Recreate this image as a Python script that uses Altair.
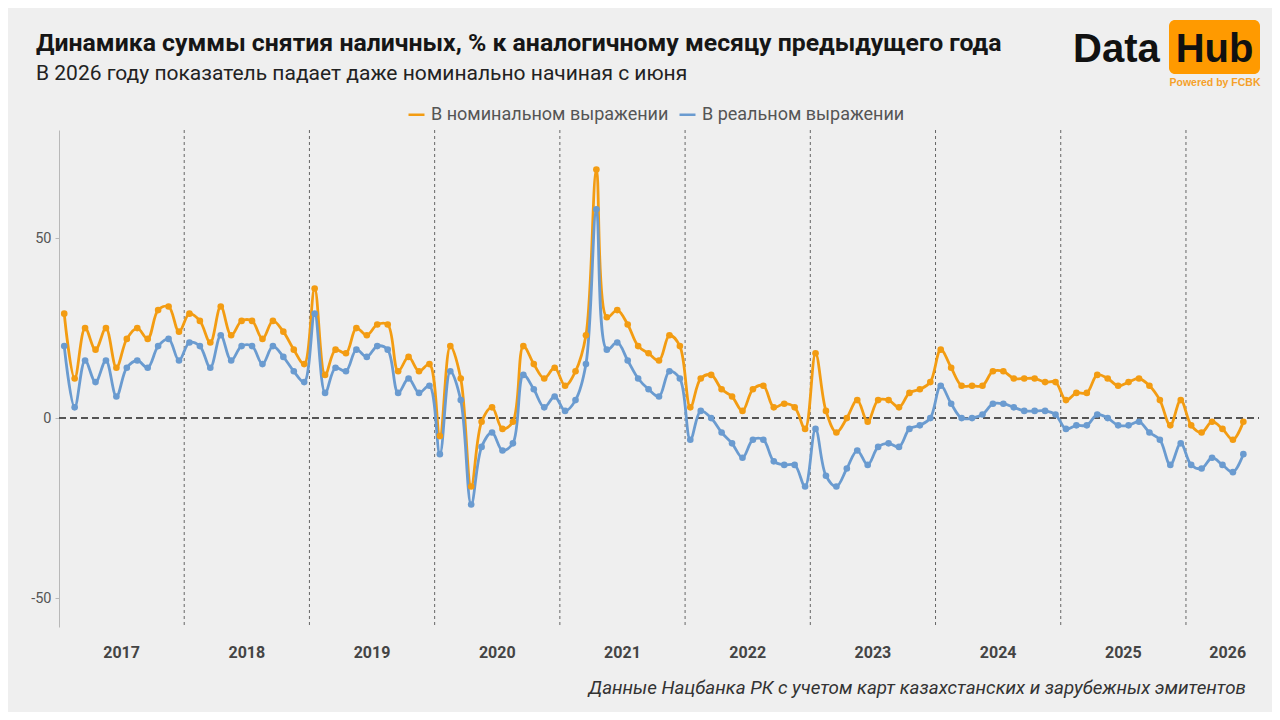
import altair as alt
import pandas as pd

# ---------------- data ----------------
years = [2017, 2018, 2019, 2020, 2021, 2022, 2023, 2024, 2025, 2026]

nominal = [
    29, 11, 25, 19, 25, 14, 22, 25, 22, 30, 31, 24,   # 2017
    29, 27, 21, 31, 23, 27, 27, 22, 27, 24, 19, 15,   # 2018
    36, 12, 19, 18, 25, 23, 26, 26, 13, 17, 13, 15,   # 2019
    -5, 20, 11, -19, -1, 3, -3, -1, 20, 15, 11, 14,   # 2020
    9, 13, 23, 69, 28, 30, 26, 20, 18, 16, 23, 20,    # 2021
    3, 11, 12, 8, 6, 2, 8, 9, 3, 4, 3, -3,            # 2022
    18, 2, -4, 0, 5, -1, 5, 5, 3, 7, 8, 10,           # 2023
    19, 14, 9, 9, 9, 13, 13, 11, 11, 11, 10, 10,      # 2024
    5, 7, 7, 12, 11, 9, 10, 11, 9, 5, -2, 5,          # 2025
    -2, -4, -1, -3, -6, -1,                           # 2026
]

real = [
    20, 3, 16, 10, 16, 6, 14, 16, 14, 20, 22, 16,     # 2017
    21, 20, 14, 23, 16, 20, 20, 15, 20, 17, 13, 10,   # 2018
    29, 7, 14, 13, 19, 17, 20, 19, 7, 11, 7, 9,       # 2019
    -10, 13, 5, -24, -8, -4, -9, -7, 12, 8, 3, 6,     # 2020
    2, 5, 15, 58, 19, 21, 16, 11, 8, 6, 13, 11,       # 2021
    -6, 2, 0, -4, -7, -11, -6, -6, -12, -13, -13, -19,  # 2022
    -3, -16, -19, -14, -9, -13, -8, -7, -8, -3, -2, 0,  # 2023
    9, 4, 0, 0, 1, 4, 4, 3, 2, 2, 2, 1,               # 2024
    -3, -2, -2, 1, 0, -2, -2, -1, -4, -6, -13, -7,    # 2025
    -13, -14, -11, -13, -15, -10,                     # 2026
]

series_names = ["В номинальном выражении", "В реальном выражении"]
series_colors = ["#F39C12", "#6A9BD0"]

title_text = "Динамика суммы снятия наличных, % к аналогичному месяцу предыдущего года"
subtitle_text = "В 2026 году показатель падает даже номинально начиная с июня"
footer_text = "Данные Нацбанка РК с учетом карт казахстанских и зарубежных эмитентов"

# month index: 0 = January 2017
df = pd.DataFrame({
    "t": list(range(len(nominal))) + list(range(len(real))),
    "series": [series_names[0]] * len(nominal) + [series_names[1]] * len(real),
    "value": nominal + real,
})

year_bounds = pd.DataFrame({"b": [12 * k - 0.5 for k in range(1, len(years))]})
half_year_ticks = [6 * k - 0.5 for k in range(0, 19)]
year_labels = pd.DataFrame({
    "year": [str(y) for y in years],
    "pos": [12 * k + 5.5 for k in range(len(years) - 1)] + [111.5],
})

W, H = 1200, 497
FONT = "Roboto"

x_scale = alt.Scale(domain=[-0.5, 114.5], nice=False, zero=False)
y_scale = alt.Scale(domain=[-58, 80], nice=False, zero=False)

lines = alt.Chart(df).mark_line(
    interpolate="catmull-rom", strokeWidth=2.8,
    point=alt.OverlayMarkDef(filled=True, size=44, opacity=1),
).encode(
    x=alt.X("t:Q", scale=x_scale, title=None,
            axis=alt.Axis(values=half_year_ticks, labels=False, grid=False,
                          domainColor="#d2d2d2", domainWidth=2,
                          tickColor="#cfcfcf", tickSize=5, tickWidth=1.5)),
    y=alt.Y("value:Q", scale=y_scale, title=None,
            axis=alt.Axis(values=[-50, 0, 50], grid=False, labelExpr="'' + datum.value",
                          domainColor="#b8b8b8", tickColor="#b8b8b8", tickSize=4,
                          labelFontSize=14.5, labelColor="#555555", labelFont=FONT,
                          labelPadding=4)),
    color=alt.Color("series:N",
                    scale=alt.Scale(domain=series_names, range=series_colors),
                    legend=alt.Legend(title=None, orient="none", legendX=348, legendY=-25,
                                      direction="horizontal", symbolType="stroke",
                                      symbolStrokeWidth=2.5, symbolSize=256,
                                      labelFontSize=18, labelColor="#555555",
                                      labelFont=FONT, columnPadding=5, labelOffset=5,
                                      labelLimit=500)),
    order="t:Q",
)

bounds = alt.Chart(year_bounds).mark_rule(
    color="#666666", strokeWidth=1, strokeDash=[3, 3]
).encode(x=alt.X("b:Q", scale=x_scale, axis=None))

zero_line = alt.Chart(year_bounds).mark_rule(
    color="#555555", strokeWidth=1.4, strokeDash=[7, 4]
).encode(y=alt.datum(0, scale=y_scale), x=alt.value(0), x2=alt.value(W))

year_text = alt.Chart(year_labels).mark_text(
    font=FONT, fontSize=16, fontWeight="bold", color="#444444", baseline="middle"
).encode(x=alt.X("pos:Q", scale=x_scale, axis=None), y=alt.value(H + 26), text="year:N")


def free_text(text, x, y, **kw):
    return alt.Chart(alt.Data(values=[{"k": 1}])).mark_text(text=text, **kw).encode(
        x=alt.value(x), y=alt.value(y))


title = free_text(title_text, -23, -79, font=FONT, fontSize=24.8, fontWeight="bold",
                  color="#161616", align="left", baseline="alphabetic")
subtitle = free_text(subtitle_text, -23, -50, font=FONT, fontSize=21,
                     color="#222222", align="left", baseline="alphabetic")
footer = free_text(footer_text, 1187, 564, font=FONT, fontSize=18.8, fontStyle="italic",
                   color="#333333", align="right", baseline="alphabetic")

logo_box = alt.Chart(alt.Data(values=[{"k": 1}])).mark_rect(
    color="#FF9A00", cornerRadius=6
).encode(x=alt.value(1110), x2=alt.value(1201), y=alt.value(-110), y2=alt.value(-56))
logo_data = free_text("Data", 1014, -68, font="Liberation Sans", fontSize=40,
                      fontWeight="bold", color="#111111", align="left", baseline="alphabetic")
logo_hub = free_text("Hub", 1155.5, -68, font="Liberation Sans", fontSize=40,
                     fontWeight="bold", color="#111111", align="center", baseline="alphabetic")
logo_sub = free_text("Powered by FCBK", 1156, -47, font="Liberation Sans", fontSize=10.5,
                     fontWeight="bold", color="#F5A12A", align="center", baseline="middle")

chart = alt.layer(
    bounds, zero_line, lines, year_text,
    title, subtitle, footer, logo_box, logo_data, logo_hub, logo_sub,
).properties(
    width=W, height=H,
    autosize=alt.AutoSizeParams(type="none"),
    padding={"left": 51, "top": 122, "right": 13, "bottom": 85},
    background="#efefef",
).configure_view(stroke=None)

chart.save("out.html", embed_options={"renderer": "svg", "actions": False})
